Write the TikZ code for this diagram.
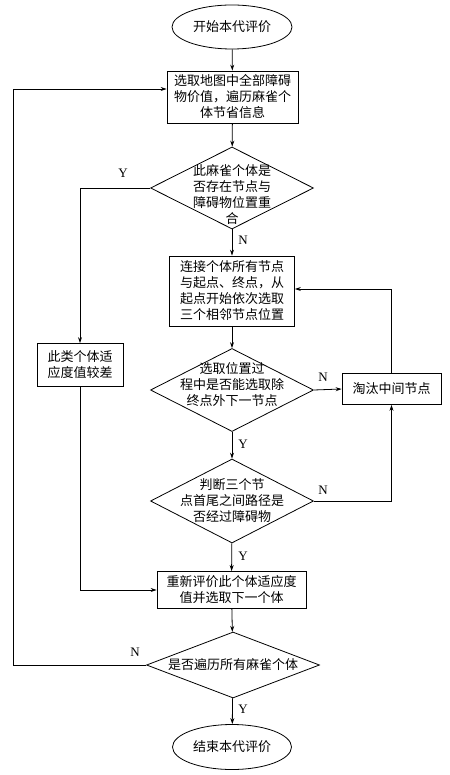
\documentclass[tikz,border=0pt]{standalone}
\usepackage{fontspec}
\setmainfont{Liberation Serif}
\newfontfamily\cjk{Noto Sans CJK SC}
\usepackage{tikz}
\usetikzlibrary{shapes.geometric,arrows.meta,positioning,calc}

\begin{document}
\begin{tikzpicture}[
    x=1pt, y=-1pt,
    block/.style={rectangle, draw, line width=0.8pt, inner sep=1pt, align=center, font=\cjk\fontsize{13}{16}\selectfont},
    terminal/.style={ellipse, draw, line width=0.8pt, inner sep=0pt, minimum width=120pt, minimum height=44pt, font=\cjk\fontsize{13}{16}\selectfont},
    decision/.style={diamond, draw, line width=0.8pt, inner sep=0pt, minimum width=163pt, minimum height=82pt},
    dtext/.style={align=center, font=\cjk\fontsize{13}{16}\selectfont},
    lbl/.style={font=\fontsize{13}{15}\selectfont, inner sep=0pt},
    arrow/.style={-{Stealth[length=6pt,width=4pt]}, line width=0.8pt}
]
    \useasboundingbox (0,0) rectangle (449,775);

    % Main column
    \node[terminal] (start) at (232,27) {开始本代评价};
    \node[block, minimum width=131pt, minimum height=52pt] (sel) at (232.5,97) {选取地图中全部障碍\\物价值，遍历麻雀个\\体节省信息};
    \node[decision] (d1) at (232,188) {};
    \node[dtext] at (232,195) {此麻雀个体是\\否存在节点与\\障碍物位置重\\合};
    \node[block, minimum width=125pt, minimum height=70pt] (link) at (232,291) {连接个体所有节点\\与起点、终点，从\\起点开始依次选取\\三个相邻节点位置};
    \node[decision, minimum height=83pt] (d2) at (232,390) {};
    \node[dtext] at (232,385) {选取位置过\\程中是否能选取除\\终点外下一节点};
    \node[decision, minimum height=84pt] (d3) at (232,501) {};
    \node[dtext] at (232,501) {判断三个节\\点首尾之间路径是\\否经过障碍物};
    \node[block, minimum width=149pt, minimum height=37pt] (eval) at (231.5,590) {重新评价此个体适应度\\值并选取下一个体};
    \node[decision, minimum width=173pt, minimum height=66pt] (d4) at (233,665) {};
    \node[dtext] at (233,665) {是否遍历所有麻雀个体};
    \node[terminal, minimum width=119pt, minimum height=45pt] (stop) at (232,747) {结束本代评价};

    % Side boxes
    \node[block, minimum width=86pt, minimum height=43pt] (poor) at (80,365) {此类个体适\\应度值较差};
    \node[block, minimum width=99pt, minimum height=31pt] (cut) at (391.5,389) {淘汰中间节点};

    % Arrows - main column
    \draw[arrow] (start) -- (sel);
    \draw[arrow] (sel) -- (d1);
    \draw[arrow] (d1) -- (link);
    \draw[arrow] (link) -- (d2);
    \draw[arrow] (d2) -- (d3);
    \draw[arrow] (d3) -- (eval);
    \draw[arrow] (eval) -- (d4);
    \draw[arrow] (d4) -- (stop);

    % Arrows - branches
    \draw[arrow] (d1.west) -| (poor.north);
    \draw[arrow] (poor.south) |- (eval.west);
    \draw[arrow] (d2.east) -- (cut.west);
    \draw[arrow] (d3.east) -| (cut.south);
    \draw[arrow] (cut.north) |- ([yshift=2pt]link.east);
    \draw[arrow] (d4.west) -- ++(-133,0) |- ([yshift=8pt]sel.west);

    % Branch labels
    \node[lbl] (y1) at (123,173) {Y};
    \node[lbl] (n1) at (243,240) {N};
    \node[lbl] (n2) at (323,377) {N};
    \node[lbl] (y2) at (243,444) {Y};
    \node[lbl] (n3) at (323,490) {N};
    \node[lbl] (y3) at (243,556) {Y};
    \node[lbl] (n4) at (135,652) {N};
    \node[lbl] (y4) at (243,709) {Y};
\end{tikzpicture}
\end{document}
